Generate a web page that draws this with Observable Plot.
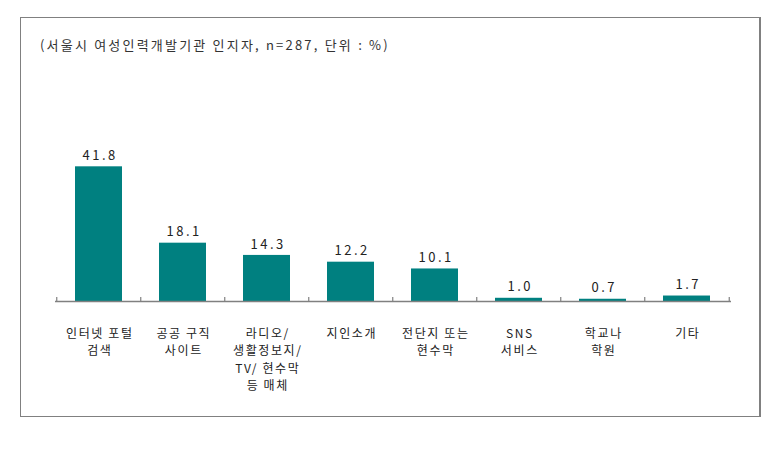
<!DOCTYPE html>
<html>
<head>
<meta charset="utf-8">
<script src="https://cdn.jsdelivr.net/npm/d3@7"></script>
<script src="https://cdn.jsdelivr.net/npm/@observablehq/plot@0.6"></script>
<style>
  html, body { margin: 0; padding: 0; background: #fff; }
  #wrap { position: relative; width: 774px; height: 451px; overflow: hidden; font-family: "Noto Sans CJK KR", "Noto Sans", sans-serif; }
  #frame { position: absolute; left: 20px; top: 17px; width: 738px; height: 398px; border: 1px solid #808080; border-right: 2px solid #808080; box-sizing: content-box; }
  #subtitle { position: absolute; left: 40px; top: 36px; font-size: 13px; line-height: 18px; color: #333; letter-spacing: 2.2px; white-space: nowrap; }
  #chart { position: absolute; left: 0; top: 0; }
</style>
</head>
<body>
<div id="wrap">
  <div id="frame"></div>
  <div id="subtitle">(서울시 여성인력개발기관 인지자, n=287, 단위 : %)</div>
  <div id="chart"></div>
</div>
<script>
const categories = [
  "인터넷 포털\n검색",
  "공공 구직\n사이트",
  "라디오/\n생활정보지/\nTV/ 현수막\n등 매체",
  "지인소개",
  "전단지 또는\n현수막",
  "SNS\n서비스",
  "학교나\n학원",
  "기타"
];
const values = [41.8, 18.1, 14.3, 12.2, 10.1, 1.0, 0.7, 1.7];

const data = categories.map((c, i) => ({category: c, value: values[i]}));
const fmt = d3.format(".1f");

const W = 774, H = 451;
const mL = 55, mR = 43;
const step = (W - mL - mR) / categories.length;

const plot = Plot.plot({
  width: W,
  height: H,
  marginLeft: mL,
  marginRight: mR,
  marginTop: 156,
  marginBottom: 150,
  style: {background: "transparent", fontFamily: "'Noto Sans CJK KR', 'Noto Sans', sans-serif", fontSize: "13px", color: "#222"},
  x: {domain: categories, paddingInner: 0.44, paddingOuter: 0.22, axis: null},
  y: {domain: [0, 45], axis: null},
  marks: [
    Plot.barY(data, {x: "category", y: "value", fill: "#008080"}),
    Plot.ruleY([0], {stroke: "#808080", strokeWidth: 1.5}),
    Plot.ruleX(categories, {x: d => d, y1: 0, y2: 0, insetTop: -4, dx: -step / 2, stroke: "#808080", strokeWidth: 1.2}),
    Plot.ruleX([categories[categories.length - 1]], {x: d => d, y1: 0, y2: 0, insetTop: -4, dx: step / 2, stroke: "#808080", strokeWidth: 1.2}),
    Plot.text(data, {x: "category", y: "value", text: d => fmt(d.value), dy: -11, dx: 1.2, lineAnchor: "middle", fill: "#222", fontSize: 13}),
    Plot.text(data, {x: "category", y: 0, text: "category", lineAnchor: "top", dy: 24, dx: 0.8, lineHeight: 1.46, fill: "#222", fontSize: 12})
  ]
});
const texts = d3.select(plot).selectAll('g[aria-label="text"]').nodes();
if (texts[0]) texts[0].style.letterSpacing = "2.5px";
if (texts[1]) texts[1].style.letterSpacing = "1.6px";
document.getElementById("chart").appendChild(plot);
</script>
</body>
</html>
